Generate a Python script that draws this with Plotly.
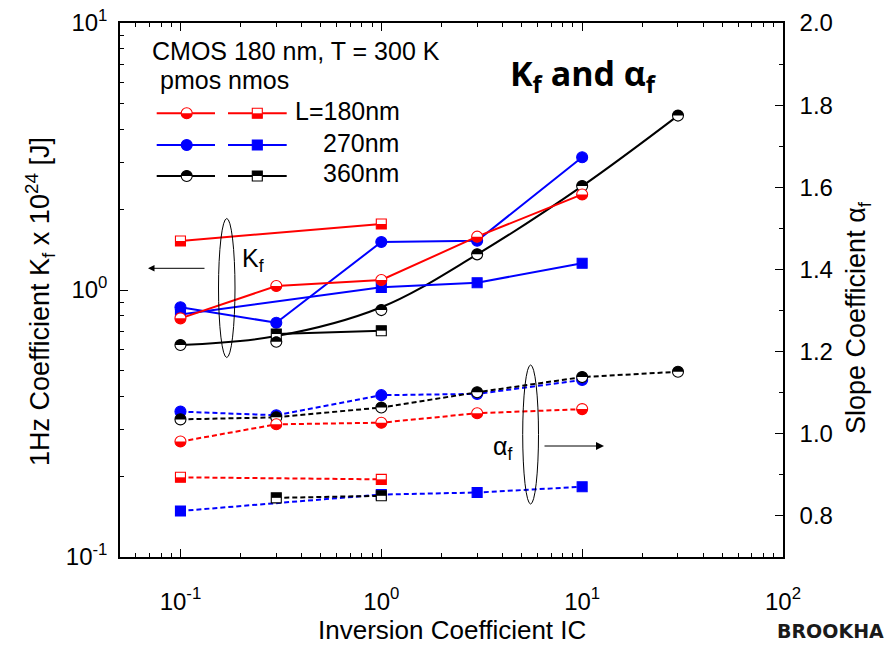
import plotly.graph_objects as go

# ---------------- data ----------------
ic_pmos = [0.1, 0.3, 1, 3, 10]
ic_pmos360 = [0.1, 0.3, 1, 3, 10, 30]
ic_nmos180 = [0.1, 1]
ic_nmos270 = [0.1, 1, 3, 10]
ic_nmos360 = [0.3, 1]

kf_pmos180 = [0.783, 1.035, 1.09, 1.584, 2.28]
kf_pmos270 = [0.862, 0.754, 1.513, 1.53, 3.14]
kf_pmos360 = [0.622, 0.640, 0.841, 1.36, 2.45, 4.50]
kf_pmos360_fit = [0.622, 0.672, 0.862, 1.36, 2.45, 4.50]
kf_nmos180 = [1.526, 1.767]
kf_nmos270 = [0.81, 1.023, 1.065, 1.259]
kf_nmos360 = [0.684, 0.704]

af_pmos180 = [0.981, 1.023, 1.027, 1.050, 1.060]
af_pmos270 = [1.054, 1.045, 1.094, 1.097, 1.131]
af_pmos360 = [1.035, 1.040, 1.064, 1.101, 1.138, 1.151]
af_nmos180 = [0.894, 0.889]
af_nmos270 = [0.812, 0.852, 0.857, 0.871]
af_nmos360 = [0.844, 0.849]

x_tick_vals = [0.1, 1, 10, 100]
x_tick_text = ["10<sup>-1</sup>", "10<sup>0</sup>", "10<sup>1</sup>", "10<sup>2</sup>"]
y_tick_vals = [0.1, 1, 10]
y_tick_text = ["10<sup>-1</sup>", "10<sup>0</sup>", "10<sup>1</sup>"]
y2_tick_vals = [0.8, 1.0, 1.2, 1.4, 1.6, 1.8, 2.0]
y2_tick_text = ["0.8", "1.0", "1.2", "1.4", "1.6", "1.8", "2.0"]
legend_labels = ["L=180nm", "270nm", "360nm"]

# ---------------- style ----------------
RED, BLUE, BLACK = "#ff0000", "#0000ff", "#000000"
FONT = "Liberation Sans, Arial, sans-serif"
W, H = 886, 645
L, R, T, B = 120, 783, 23, 557
CIRC, SQ = 11, 10


def px(xp):
    return (xp - L) / (R - L)


def py(yp):
    return (B - yp) / (B - T)


def half_circle(r, part):
    k = 0.5523 * r
    s = -1 if part == "lower" else 1
    return (f"M{-r},0 C{-r},{s*k} {-k},{s*r} 0,{s*r} "
            f"C{k},{s*r} {r},{s*k} {r},0 Z")


def half_square(h, part):
    s = -1 if part == "lower" else 1
    return f"M{-h},0 L{h},0 L{h},{s*h} L{-h},{s*h} Z"


# (x, y, yaxis, colour, symbol, fill, dash, draw_line)
series = [
    (ic_nmos270, kf_nmos270, "y", BLUE, "square", "full", "solid", True),
    (ic_pmos, kf_pmos270, "y", BLUE, "circle", "full", "solid", True),
    (ic_pmos360, kf_pmos360, "y", BLACK, "circle", "upper", "solid", False),
    (ic_nmos360, kf_nmos360, "y", BLACK, "square", "upper", "solid", True),
    (ic_nmos180, kf_nmos180, "y", RED, "square", "lower", "solid", True),
    (ic_pmos, kf_pmos180, "y", RED, "circle", "lower", "solid", True),
    (ic_nmos270, af_nmos270, "y2", BLUE, "square", "full", "5px,3px", True),
    (ic_pmos, af_pmos270, "y2", BLUE, "circle", "full", "5px,3px", True),
    (ic_pmos360, af_pmos360, "y2", BLACK, "circle", "upper", "5px,3px", True),
    (ic_nmos360, af_nmos360, "y2", BLACK, "square", "upper", "5px,3px", True),
    (ic_nmos180, af_nmos180, "y2", RED, "square", "lower", "5px,3px", True),
    (ic_pmos, af_pmos180, "y2", RED, "circle", "lower", "5px,3px", True),
]

fig = go.Figure()

# smooth fitted curve for pmos 360 nm Kf
fig.add_trace(go.Scatter(x=ic_pmos360, y=kf_pmos360_fit, mode="lines",
                         line=dict(color=BLACK, width=2, shape="spline", smoothing=1.0),
                         yaxis="y", showlegend=False, hoverinfo="skip"))

shapes = []
for xs, ys, yax, col, sym, fill, dash, draw_line in series:
    size = CIRC if sym == "circle" else SQ
    fig.add_trace(go.Scatter(
        x=xs, y=ys, yaxis=yax,
        mode="lines+markers" if draw_line else "markers",
        line=dict(color=col, width=2, dash=dash),
        marker=dict(symbol=sym, size=size,
                    color=col if fill == "full" else "white",
                    line=dict(color=col, width=1.1)),
        showlegend=False, hoverinfo="skip"))
    if fill in ("lower", "upper"):
        path = half_circle(size / 2, fill) if sym == "circle" else half_square(size / 2, fill)
        for xv, yv in zip(xs, ys):
            shapes.append(dict(type="path", xref="x", yref=yax,
                               xsizemode="pixel", ysizemode="pixel",
                               xanchor=xv, yanchor=yv, path=path,
                               fillcolor=col, line=dict(width=0), layer="above"))

# ---------------- hand-made legend ----------------
legend_rows = [113.3, 145, 176]
legend_cols = [(156.7, 215, 186.7, "circle"), (228, 286.7, 257.3, "square")]
legend_cols_fill = {RED: "lower", BLUE: "full", BLACK: "upper"}
for row_y, col, lab in zip(legend_rows, [RED, BLUE, BLACK], legend_labels):
    for x0, x1, xm, sym in legend_cols:
        shapes.append(dict(type="line", xref="paper", yref="paper",
                           x0=px(x0), x1=px(x1), y0=py(row_y), y1=py(row_y),
                           line=dict(color=col, width=2)))
        fill = legend_cols_fill[col]
        size = CIRC if sym == "circle" else SQ
        h = size / 2
        shapes.append(dict(type="circle" if sym == "circle" else "rect",
                           xref="paper", yref="paper",
                           xsizemode="pixel", ysizemode="pixel",
                           xanchor=px(xm), yanchor=py(row_y),
                           x0=-h, x1=h, y0=-h, y1=h,
                           fillcolor=col if fill == "full" else "white",
                           line=dict(color=col, width=1.1)))
        if fill != "full":
            path = half_circle(h, fill) if sym == "circle" else half_square(h, fill)
            shapes.append(dict(type="path", xref="paper", yref="paper",
                               xsizemode="pixel", ysizemode="pixel",
                               xanchor=px(xm), yanchor=py(row_y), path=path,
                               fillcolor=col, line=dict(width=0)))

# ellipses grouping the curves
shapes.append(dict(type="circle", xref="paper", yref="paper",
                   x0=px(218.5), x1=px(235), y0=py(357.5), y1=py(218.5),
                   line=dict(color=BLACK, width=1)))
shapes.append(dict(type="circle", xref="paper", yref="paper",
                   x0=px(522.7), x1=px(538.5), y0=py(504), y1=py(365),
                   line=dict(color=BLACK, width=1)))

annotations = [
    dict(text="CMOS 180 nm, T = 300 K", x=px(150), y=py(51), xanchor="left", yanchor="middle",
         font=dict(size=25, family=FONT, color=BLACK)),
    dict(text="pmos nmos", x=px(158), y=py(80), xanchor="left", yanchor="middle",
         font=dict(size=25, family=FONT, color=BLACK)),
    dict(text="<b>K<sub>f</sub> and α<sub>f</sub></b>", x=px(583), y=py(75),
         xanchor="center", yanchor="middle",
         font=dict(size=34, family="Open Sans, sans-serif", color=BLACK)),
    dict(text="K<sub>f</sub>", x=px(240), y=py(260), xanchor="left", yanchor="middle",
         font=dict(size=25, family=FONT, color=BLACK)),
    dict(text="α<sub>f</sub>", x=px(491), y=py(448), xanchor="left", yanchor="middle",
         font=dict(size=25, family=FONT, color=BLACK)),
    # axis titles
    dict(text="1Hz Coefficient K<sub>f</sub> x 10<sup>24</sup> [J]", x=px(40), y=py(302),
         xanchor="center", yanchor="middle", textangle=-90,
         font=dict(size=27, family=FONT, color=BLACK)),
    dict(text="Slope Coefficient α<sub>f</sub>", x=px(858), y=py(318),
         xanchor="center", yanchor="middle", textangle=-90,
         font=dict(size=27, family=FONT, color=BLACK)),
    dict(text="Inversion Coefficient IC", x=px(451.5), y=py(630),
         xanchor="center", yanchor="middle",
         font=dict(size=26, family=FONT, color=BLACK)),
    # arrows
    dict(text="", x=px(148), y=py(268.3), ax=58, ay=0, showarrow=True,
         arrowhead=2, arrowsize=1.3, arrowwidth=1, arrowcolor=BLACK),
    dict(text="", x=px(604), y=py(446), ax=-61, ay=0, showarrow=True,
         arrowhead=2, arrowsize=1.6, arrowwidth=1, arrowcolor=BLACK),
    # logo fragment
    dict(text="<b>BROOKHA</b>", x=px(775), y=py(631), xanchor="left", yanchor="middle",
         font=dict(size=19, family="DejaVu Sans, sans-serif", color="#1a1a1a")),
]
for row_y, lab, lx in zip(legend_rows, legend_labels, [293, 321, 321]):
    annotations.append(dict(text=lab, x=px(lx), y=py(row_y - 2.5), xanchor="left", yanchor="middle",
                            font=dict(size=25, family=FONT, color=BLACK)))
for a in annotations:
    a.setdefault("showarrow", False)
    a["xref"] = "paper"
    a["yref"] = "paper"

minor_log_x = [m * 10 ** e for e in (-2, -1, 0, 1) for m in range(2, 10) if 0.05 <= m * 10 ** e <= 100]
minor_log_y = [m * 10 ** e for e in (-1, 0) for m in range(2, 10)]
minor_lin = [0.9, 1.1, 1.3, 1.5, 1.7, 1.9]

fig.update_layout(
    width=W, height=H,
    margin=dict(l=L, r=W - R, t=T, b=H - B, autoexpand=False),
    paper_bgcolor="white", plot_bgcolor="white",
    showlegend=False, hovermode=False,
    font=dict(family=FONT, color=BLACK),
    shapes=shapes, annotations=annotations,
    xaxis=dict(type="log", range=[-1.30103, 2], tickmode="array",
               tickvals=x_tick_vals, ticktext=x_tick_text,
               ticks="inside", ticklen=8, tickwidth=1.3, tickcolor=BLACK,
               showline=True, linewidth=1.5, linecolor=BLACK, mirror="ticks",
               showgrid=False, zeroline=False, automargin=False,
               minor=dict(tickmode="array", tickvals=minor_log_x, ticks="inside",
                          ticklen=4, tickwidth=1.1, tickcolor=BLACK, showgrid=False),
               tickfont=dict(size=24, family=FONT, color=BLACK),
               ticklabelstandoff=22),
    yaxis=dict(type="log", range=[-1, 1], tickmode="array",
               tickvals=y_tick_vals, ticktext=y_tick_text,
               ticks="inside", ticklen=8, tickwidth=1.3, tickcolor=BLACK,
               showline=True, linewidth=1.5, linecolor=BLACK, mirror=False,
               showgrid=False, zeroline=False, automargin=False,
               minor=dict(tickmode="array", tickvals=minor_log_y, ticks="inside",
                          ticklen=4, tickwidth=1.1, tickcolor=BLACK, showgrid=False),
               tickfont=dict(size=24, family=FONT, color=BLACK),
               ticklabelstandoff=6),
    yaxis2=dict(overlaying="y", side="right", range=[0.7, 2.0], tickmode="array",
                tickvals=y2_tick_vals, ticktext=y2_tick_text,
                ticks="inside", ticklen=8, tickwidth=1.3, tickcolor=BLACK,
                showline=True, linewidth=1.5, linecolor=BLACK,
                showgrid=False, zeroline=False, automargin=False,
                minor=dict(tickmode="array", tickvals=minor_lin, ticks="inside",
                           ticklen=4, tickwidth=1.1, tickcolor=BLACK, showgrid=False),
                tickfont=dict(size=24, family=FONT, color=BLACK),
                ticklabelstandoff=10),
)

fig.write_html("out.html")
